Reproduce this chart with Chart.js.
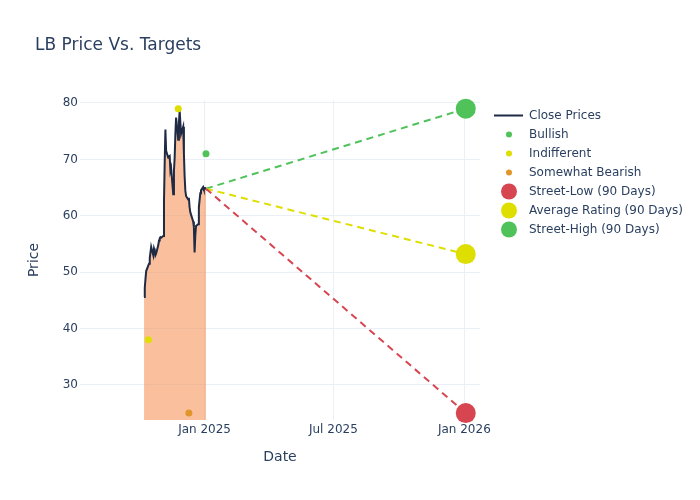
<!DOCTYPE html>
<html>
<head>
<meta charset="utf-8">
<script src="https://cdn.jsdelivr.net/npm/chart.js@4.4.1/dist/chart.umd.min.js"></script>
<style>
    html, body { margin: 0; padding: 0; background: #fff; }
    canvas { display: block; }
</style>
</head>
<body>
<canvas id="grafico" width="700" height="500"></canvas>
<script>
// close prices (trading days)
const closeDates = [
    '2024-10-08', '2024-10-09', '2024-10-10', '2024-10-11', '2024-10-14', '2024-10-15', '2024-10-16', '2024-10-17', '2024-10-18',
    '2024-10-21', '2024-10-22', '2024-10-23', '2024-10-24', '2024-10-25', '2024-10-28', '2024-10-29', '2024-10-30',
    '2024-10-31', '2024-11-01', '2024-11-04', '2024-11-05', '2024-11-06', '2024-11-07', '2024-11-08', '2024-11-11',
    '2024-11-12', '2024-11-13', '2024-11-14', '2024-11-15', '2024-11-18', '2024-11-19', '2024-11-20', '2024-11-21',
    '2024-11-22', '2024-11-25', '2024-11-26', '2024-11-27', '2024-11-29', '2024-12-02', '2024-12-03', '2024-12-04',
    '2024-12-05', '2024-12-06', '2024-12-09', '2024-12-10', '2024-12-11', '2024-12-12', '2024-12-13', '2024-12-16',
    '2024-12-17', '2024-12-18', '2024-12-19', '2024-12-20', '2024-12-23', '2024-12-24', '2024-12-26', '2024-12-27',
    '2024-12-30', '2024-12-31', '2025-01-02', '2025-01-03'
]
const closePrices = [
    45.6, 47.2, 48.8, 50.2, 51.2, 51.5, 52.5, 53.5, 54.5,
    53.0, 54.2, 53.8, 53.0, 53.3, 54.8, 55.6, 56.0,
    56.2, 56.1, 56.4, 62.5, 69.5, 75.3, 71.5, 70.3,
    70.5, 70.6, 68.0, 68.5, 63.8, 68.0, 70.3, 74.5,
    77.4, 73.5, 76.5, 78.6, 74.5, 75.8, 71.0, 67.0,
    64.5, 63.5, 62.9, 63.2, 61.5, 60.6, 60.2, 59.0,
    58.0, 53.5, 56.5, 58.2, 58.5, 61.5, 64.0, 64.5,
    65.1, 64.7, 64.9, 64.8
]

// analyst ratings
const bullishDates = ['2025-01-03']
const bullishPrices = [71]
const indifferentDates = ['2024-10-14', '2024-11-25']
const indifferentPrices = [38, 79]
const bearishDates = ['2024-12-10']
const bearishPrices = [25]

// 90 day targets
const targetDate = '2026-01-03'
const streetLow = 25
const averageRating = 53.2
const streetHigh = 79

// axes
const xTickDates = ['2025-01-01', '2025-07-01', '2026-01-01']
const xTickLabels = ['Jan 2025', 'Jul 2025', 'Jan 2026']
const yTicks = [30, 40, 50, 60, 70, 80]
const xRange = ['2024-07-10', '2026-01-23']
const yRange = [23.78, 80.53]

const FONTE = '"DejaVu Sans", Verdana, sans-serif'
const COR_TEXTO = '#2a3f5f'
const COR_GRADE = '#EBF0F8'

function pontos(datas, valores) {
    return datas.map(function (d, i) {
        return { x: Date.parse(d), y: valores[i] }
    })
}

const ultimo = { x: Date.parse(closeDates[closeDates.length - 1]), y: closePrices[closePrices.length - 1] }

function linhaAlvo(valor, cor) {
    return {
        label: '',
        data: [ultimo, { x: Date.parse(targetDate), y: valor }],
        borderColor: cor,
        borderWidth: 2,
        borderDash: [7, 5],
        pointRadius: 0,
        fill: false,
        order: 4
    }
}

function marcador(nome, datas, valores, cor, raio, ordem, simbolo) {
    return {
        label: nome,
        data: pontos(datas, valores),
        showLine: false,
        backgroundColor: cor,
        borderColor: cor,
        borderWidth: 0,
        pointRadius: raio,
        pointHoverRadius: raio,
        clip: false,
        order: ordem,
        simbolo: simbolo
    }
}

// title + legend drawn by hand (plotly style)
const extras = {
    id: 'extras',
    afterDraw(chart) {
        const c = chart.ctx
        c.save()
        c.fillStyle = COR_TEXTO
        c.textBaseline = 'middle'
        c.font = '17px ' + FONTE
        c.fillText('LB Price Vs. Targets', 35, 45.5)

        c.font = '12px ' + FONTE
        let y = 115.5
        chart.data.datasets.forEach(function (ds) {
            if (!ds.simbolo) return
            if (ds.simbolo === 'linha') {
                c.strokeStyle = ds.borderColor
                c.lineWidth = 2
                c.beginPath()
                c.moveTo(494, y)
                c.lineTo(523, y)
                c.stroke()
            } else {
                c.fillStyle = ds.backgroundColor
                c.beginPath()
                c.arc(509, y, ds.simbolo === 'grande' ? 8 : 3, 0, Math.PI * 2)
                c.fill()
            }
            c.fillStyle = COR_TEXTO
            c.fillText(ds.label, 529, y)
            y += 19
        })
        c.restore()
    }
}

const ctx = document.getElementById('grafico').getContext('2d')

const grafico = new Chart(ctx, {
    type: 'line',
    data: {
        datasets: [
            {
                label: 'Close Prices',
                data: pontos(closeDates, closePrices),
                borderColor: '#1f2a44',
                borderWidth: 2,
                backgroundColor: 'rgba(245, 130, 60, 0.5)',
                fill: 'origin',
                pointRadius: 0,
                tension: 0,
                order: 5,
                simbolo: 'linha'
            },
            marcador('Bullish', bullishDates, bullishPrices, '#4fc35a', 3.5, 2, 'pequeno'),
            marcador('Indifferent', indifferentDates, indifferentPrices, '#dede00', 3.5, 2, 'pequeno'),
            marcador('Somewhat Bearish', bearishDates, bearishPrices, '#e0962a', 3.5, 2, 'pequeno'),
            linhaAlvo(streetLow, '#d64550'),
            linhaAlvo(averageRating, '#dede00'),
            linhaAlvo(streetHigh, '#4fc35a'),
            marcador('Street-Low (90 Days)', [targetDate], [streetLow], '#d64550', 10, 1, 'grande'),
            marcador('Average Rating (90 Days)', [targetDate], [averageRating], '#dede00', 10, 1, 'grande'),
            marcador('Street-High (90 Days)', [targetDate], [streetHigh], '#4fc35a', 10, 1, 'grande')
        ]
    },
    options: {
        responsive: false,
        animation: false,
        layout: { padding: { top: 100, right: 220, bottom: 0, left: 0 } },
        plugins: {
            legend: { display: false },
            title: { display: false },
            tooltip: { enabled: false }
        },
        scales: {
            x: {
                type: 'linear',
                min: Date.parse(xRange[0]),
                max: Date.parse(xRange[1]),
                afterBuildTicks(scale) {
                    scale.ticks = xTickDates.map(function (d) { return { value: Date.parse(d) } })
                },
                afterFit(scale) { scale.height = 80 },
                ticks: {
                    color: COR_TEXTO,
                    font: { family: FONTE, size: 12 },
                    padding: 3,
                    maxRotation: 0,
                    callback: function (v) {
                        const i = xTickDates.findIndex(function (d) { return Date.parse(d) === v })
                        return xTickLabels[i]
                    }
                },
                grid: { color: COR_GRADE, drawTicks: false },
                border: { display: false },
                title: {
                    display: true,
                    text: 'Date',
                    color: COR_TEXTO,
                    font: { family: FONTE, size: 14 },
                    padding: { top: 0, bottom: 34.6 }
                }
            },
            y: {
                min: yRange[0],
                max: yRange[1],
                afterBuildTicks(scale) {
                    scale.ticks = yTicks.map(function (v) { return { value: v } })
                },
                afterFit(scale) { scale.width = 80 },
                ticks: {
                    color: COR_TEXTO,
                    font: { family: FONTE, size: 12 },
                    padding: 2
                },
                grid: { color: COR_GRADE, drawTicks: false },
                border: { display: false },
                title: {
                    display: true,
                    text: 'Price',
                    color: COR_TEXTO,
                    font: { family: FONTE, size: 14 },
                    padding: { top: 25.6, bottom: 0 }
                }
            }
        }
    },
    plugins: [extras]
})
</script>
</body>
</html>
